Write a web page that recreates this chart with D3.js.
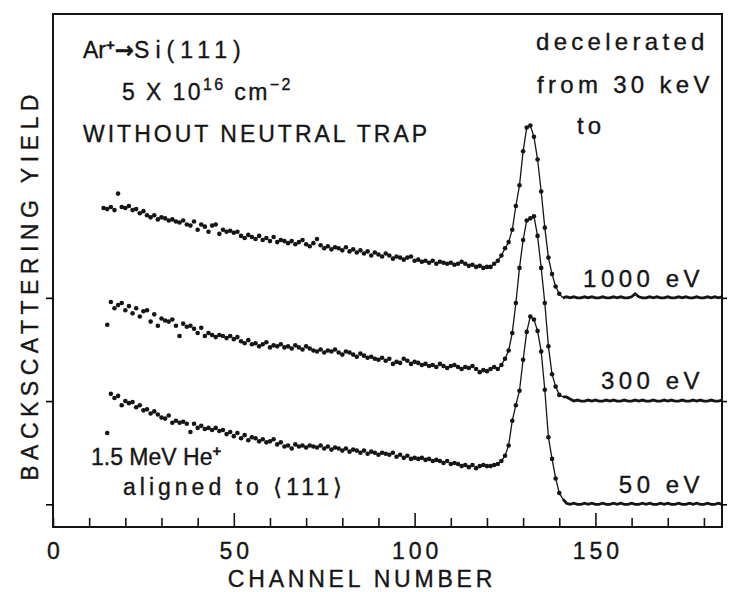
<!DOCTYPE html>
<html>
<head>
<meta charset="utf-8">
<script src="https://cdn.jsdelivr.net/npm/d3@7/dist/d3.min.js"></script>
<style>
    body { margin: 0; background: #ffffff; }
    svg text {
        font-family: "Liberation Sans", Arial, sans-serif;
        fill: #151515;
        stroke: #151515;
        stroke-width: 0.35px;
    }
</style>
</head>
<body>
<div id="chart"></div>
<script>
const width = 729;
const height = 592;

// 後方散乱スペクトル（各チャンネルの収量、相対単位）
const spectrumLabels = ["1000 eV", "300 eV", "50 eV"];
const spectrumOffsets = [2, 1, 0];
const startChannels = [14, 15, 15];
const lineFromChannel = 121;
const flatFromChannel = 141;

const yield1000 = [
    0.87, 0.86, 0.88, 0.85, 1.01, 0.88, 0.87, 0.89, 0.85, 0.86,
    0.82, 0.84, 0.80, 0.78, 0.80, 0.76, 0.78, 0.77, 0.75, 0.76,
    0.74, 0.73, 0.75, 0.71, 0.70, 0.74, 0.66, 0.71, 0.69, 0.64,
    0.70, 0.71, 0.62, 0.66, 0.64, 0.65, 0.63, 0.64, 0.60, 0.58,
    0.61, 0.59, 0.57, 0.60, 0.56, 0.58, 0.55, 0.59, 0.54, 0.56,
    0.55, 0.53, 0.55, 0.52, 0.54, 0.56, 0.52, 0.50, 0.53, 0.57,
    0.51, 0.48, 0.50, 0.47, 0.49, 0.48, 0.46, 0.49, 0.45, 0.47,
    0.44, 0.46, 0.43, 0.45, 0.41, 0.44, 0.42, 0.40, 0.43, 0.41,
    0.38, 0.40, 0.39, 0.37, 0.39, 0.40, 0.36, 0.37, 0.35, 0.36,
    0.34, 0.36, 0.33, 0.35, 0.34, 0.33, 0.34, 0.32, 0.33, 0.35,
    0.33, 0.31, 0.32, 0.30, 0.31, 0.29, 0.30, 0.30, 0.33, 0.36,
    0.41, 0.48, 0.54, 0.66, 0.89, 1.09, 1.42, 1.65, 1.67, 1.56,
    1.34, 1.03, 0.68, 0.39, 0.23, 0.11, 0.04, 0.00,
    0.01, 0.00, 0.01, 0.00, 0.00, 0.01, 0.00, 0.01, 0.00, 0.00,
    0.01, 0.00, 0.00, 0.01, 0.00, 0.01, 0.00, 0.00, 0.01, 0.04,
    0.01, 0.00, 0.00, 0.01, 0.00, 0.01, 0.00, 0.00, 0.01, 0.00,
    0.00, 0.01, 0.00, 0.01, 0.00, 0.00, 0.01, 0.00, 0.00, 0.01,
    0.00, 0.01, 0.00, 0.01
];

const yield300 = [
    0.74, 0.96, 0.90, 0.93, 0.95, 0.88, 0.92, 0.85, 0.90, 0.82,
    0.87, 0.88, 0.77, 0.84, 0.73, 0.80, 0.78, 0.77, 0.79, 0.73,
    0.63, 0.75, 0.72, 0.73, 0.70, 0.66, 0.71, 0.63, 0.66, 0.64,
    0.62, 0.64, 0.63, 0.61, 0.63, 0.60, 0.62, 0.58, 0.56, 0.59,
    0.55, 0.56, 0.53, 0.55, 0.57, 0.52, 0.54, 0.53, 0.55, 0.52,
    0.53, 0.51, 0.54, 0.52, 0.50, 0.53, 0.51, 0.49, 0.48, 0.50,
    0.47, 0.49, 0.48, 0.50, 0.47, 0.45, 0.48, 0.47, 0.45, 0.43,
    0.46, 0.44, 0.42, 0.43, 0.41, 0.40, 0.42, 0.39, 0.41, 0.36,
    0.38, 0.37, 0.41, 0.39, 0.36, 0.38, 0.37, 0.35, 0.36, 0.34,
    0.35, 0.33, 0.36, 0.34, 0.32, 0.34, 0.35, 0.33, 0.31, 0.33,
    0.32, 0.34, 0.31, 0.28, 0.30, 0.29, 0.31, 0.33, 0.31, 0.35,
    0.41, 0.49, 0.66, 0.95, 1.29, 1.56, 1.75, 1.77, 1.79, 1.60,
    1.29, 0.95, 0.53, 0.26, 0.14, 0.06, 0.04, 0.04, 0.02, 0.00,
    0.01, 0.00, 0.00, 0.01, 0.00, 0.01, 0.00, 0.00, 0.01, 0.00,
    0.01, 0.00, 0.00, 0.01, 0.00, 0.00, 0.01, 0.00, 0.01, 0.00,
    0.00, 0.01, 0.00, 0.00, 0.01, 0.00, 0.01, 0.00, 0.00, 0.01,
    0.00, 0.00, 0.01, 0.00, 0.01, 0.00, 0.00, 0.01, 0.00, 0.00,
    0.01
];

const yield50 = [
    0.69, 1.07, 1.03, 1.05, 0.96, 1.00, 0.98, 0.99, 0.94, 0.96,
    0.91, 0.92, 0.88, 0.90, 0.87, 0.84, 0.83, 0.86, 0.79, 0.81,
    0.79, 0.80, 0.78, 0.70, 0.78, 0.74, 0.76, 0.73, 0.74, 0.72,
    0.74, 0.71, 0.72, 0.68, 0.70, 0.66, 0.69, 0.64, 0.67, 0.62,
    0.65, 0.64, 0.61, 0.63, 0.60, 0.61, 0.63, 0.58, 0.60, 0.56,
    0.57, 0.54, 0.58, 0.56, 0.57, 0.55, 0.57, 0.56, 0.55, 0.57,
    0.54, 0.56, 0.53, 0.55, 0.54, 0.52, 0.54, 0.51, 0.53, 0.52,
    0.50, 0.52, 0.49, 0.51, 0.50, 0.48, 0.50, 0.49, 0.48, 0.50,
    0.46, 0.48, 0.45, 0.47, 0.44, 0.45, 0.44, 0.45, 0.43, 0.44,
    0.42, 0.43, 0.42, 0.40, 0.42, 0.39, 0.40, 0.39, 0.37, 0.38,
    0.36, 0.38, 0.35, 0.37, 0.38, 0.37, 0.37, 0.38, 0.39, 0.42,
    0.47, 0.57, 0.81, 0.96, 1.10, 1.40, 1.67, 1.82, 1.79, 1.68,
    1.48, 1.11, 0.65, 0.44, 0.25, 0.11, 0.05, 0.01, 0.00,
    0.01, 0.00, 0.00, 0.01, 0.00, 0.01, 0.00, 0.00, 0.01, 0.00,
    0.00, 0.01, 0.00, 0.01, 0.00, 0.00, 0.01, 0.00, 0.00, 0.01,
    0.00, 0.01, 0.00, 0.00, 0.01, 0.00, 0.01, 0.00, 0.00, 0.01,
    0.00, 0.00, 0.01, 0.00, 0.01, 0.00, 0.00, 0.01, 0.00, 0.00,
    0.01, 0.00
];

const spectra = [yield1000, yield300, yield50];

// 軸
const xTicks = d3.range(0, 181, 10);
const xTickLabels = [0, 50, 100, 150];

const svg = d3
    .select("#chart")
    .append("svg")
    .attr("width", width)
    .attr("height", height);

const x = d3.scaleLinear().domain([0, 185]).range([53, 722]);
const y = d3.scaleLinear().domain([-0.22, 4.75]).range([527, 14]);

// 枠
svg.append("rect")
    .attr("x", x(0))
    .attr("y", y(4.75))
    .attr("width", x(185) - x(0))
    .attr("height", y(-0.22) - y(4.75))
    .attr("fill", "none")
    .attr("stroke", "#151515")
    .attr("stroke-width", 2);

// 下軸（内向き目盛）
const xAxis = svg.append("g")
    .attr("transform", `translate(0,${y(-0.22)})`)
    .call(
        d3.axisBottom(x)
            .tickValues(xTicks)
            .tickSize(-9)
            .tickPadding(16)
            .tickFormat(function (d) {
                return xTickLabels.includes(d) ? d : "";
            })
    );
xAxis.select(".domain").remove();
xAxis.selectAll(".tick line")
    .attr("stroke", "#151515")
    .attr("stroke-width", 1.6)
    .attr("y2", function (d) {
        return xTickLabels.includes(d) && d > 0 ? -14 : -9;
    });
xAxis.selectAll(".tick text")
    .attr("font-size", 23)
    .attr("letter-spacing", 4)
    .attr("dx", 2)
    .style("font-family", "'Liberation Sans', Arial, sans-serif");

// 左右の目盛（各スペクトルの基準）
const leftAxis = svg.append("g")
    .attr("transform", `translate(${x(0)},0)`)
    .call(d3.axisLeft(y).tickValues(spectrumOffsets).tickSize(7).tickFormat(""));
leftAxis.select(".domain").remove();
leftAxis.selectAll(".tick line").attr("stroke-width", 1.6);

const rightAxis = svg.append("g")
    .attr("transform", `translate(${x(185)},0)`)
    .call(d3.axisRight(y).tickValues(spectrumOffsets).tickSize(5).tickFormat(""));
rightAxis.select(".domain").remove();
rightAxis.selectAll(".tick line").attr("stroke-width", 1.6);

// スペクトル
const line = d3.line()
    .x(function (d) { return x(d.ch); })
    .y(function (d) { return y(d.v); });

spectra.forEach(function (values, k) {
    const points = values.map(function (v, i) {
        return { ch: startChannels[k] + i, v: spectrumOffsets[k] + v };
    });

    // ピーク部分は細い線で結ぶ
    svg.append("path")
        .datum(points.filter(function (p) {
            return p.ch >= lineFromChannel && p.ch <= flatFromChannel;
        }))
        .attr("d", line)
        .attr("fill", "none")
        .attr("stroke", "#151515")
        .attr("stroke-width", 1.3);

    // ピーク後の平坦部は太い線
    svg.append("path")
        .datum(points.filter(function (p) { return p.ch >= flatFromChannel; }))
        .attr("d", line)
        .attr("fill", "none")
        .attr("stroke", "#151515")
        .attr("stroke-width", 2.8);

    svg.append("g")
        .selectAll("circle")
        .data(points.filter(function (p) { return p.ch < flatFromChannel; }))
        .enter()
        .append("circle")
        .attr("cx", function (d) { return x(d.ch); })
        .attr("cy", function (d) { return y(d.v); })
        .attr("r", 2.3)
        .attr("fill", "#151515");
});

// スペクトルのラベル
const labelY = [287, 389, 493];
spectrumLabels.forEach(function (t, k) {
    svg.append("text")
        .attr("x", 704)
        .attr("y", labelY[k])
        .attr("text-anchor", "end")
        .attr("font-size", 24)
        .attr("letter-spacing", 4.5)
        .text(t);
});

// 注釈
const note = svg.append("g").attr("font-size", 23);

const t1 = note.append("text").attr("x", 83).attr("y", 58);
t1.append("tspan").text("Ar");
t1.append("tspan").attr("dy", -8).attr("font-size", 15).attr("font-weight", "bold").text("+");
t1.append("tspan").attr("dy", 8).attr("font-weight", "bold")
    .style("font-family", "'DejaVu Sans', sans-serif").text("→");
t1.append("tspan").attr("letter-spacing", 6).text("Si(111)");

const t2 = note.append("text").attr("x", 122).attr("y", 100).attr("letter-spacing", 2.4);
t2.append("tspan").text("5 X 10");
t2.append("tspan").attr("dy", -10).attr("font-size", 16).text("16");
t2.append("tspan").attr("dy", 10).text(" cm");
t2.append("tspan").attr("dy", -10).attr("font-size", 16).text("−2");

note.append("text").attr("x", 83).attr("y", 142).attr("letter-spacing", 3)
    .text("WITHOUT NEUTRAL TRAP");

note.append("text").attr("x", 536).attr("y", 50).attr("font-size", 24).attr("letter-spacing", 4.3).text("decelerated");
note.append("text").attr("x", 537).attr("y", 93).attr("font-size", 24).attr("letter-spacing", 4.3).text("from 30 keV");
note.append("text").attr("x", 577).attr("y", 134).attr("font-size", 24).attr("letter-spacing", 4).text("to");

const t3 = note.append("text").attr("x", 91).attr("y", 465);
t3.append("tspan").text("1.5 MeV He");
t3.append("tspan").attr("dy", -9).attr("font-size", 15).attr("font-weight", "bold").text("+");

note.append("text").attr("x", 123).attr("y", 495).attr("letter-spacing", 4)
    .text("aligned to ⟨111⟩");

// 軸タイトル
svg.append("text")
    .attr("x", 362)
    .attr("y", 587)
    .attr("text-anchor", "middle")
    .attr("font-size", 23)
    .attr("letter-spacing", 3.8)
    .text("CHANNEL NUMBER");

svg.append("text")
    .attr("transform", "translate(38,285) rotate(-90)")
    .attr("text-anchor", "middle")
    .attr("font-size", 23)
    .attr("letter-spacing", 5.5)
    .text("BACKSCATTERING YIELD");
</script>
</body>
</html>
